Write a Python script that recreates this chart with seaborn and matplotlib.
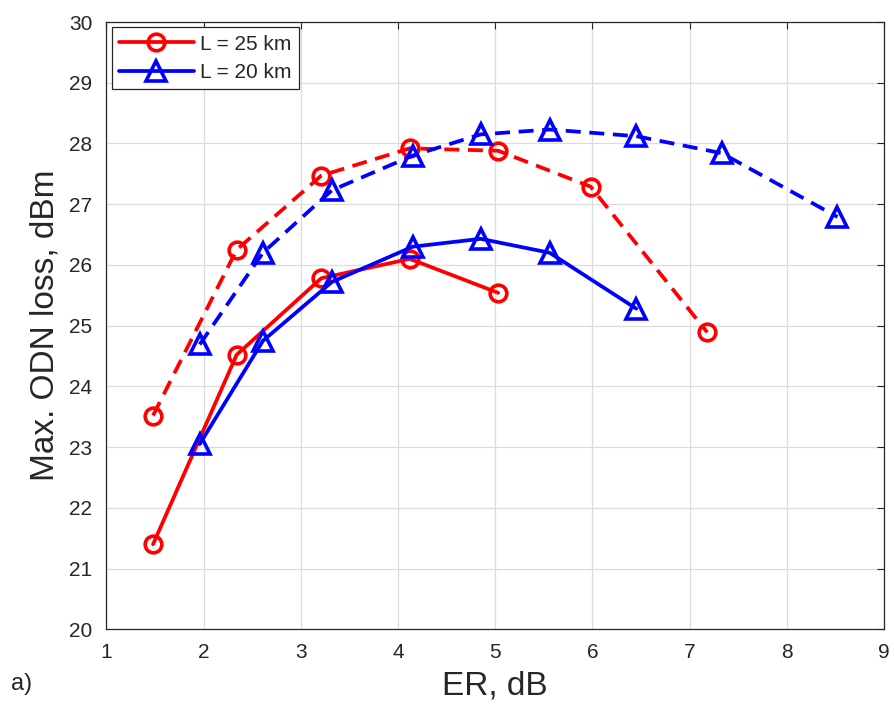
import matplotlib
matplotlib.use("Agg")
import matplotlib.pyplot as plt
import pandas as pd
import seaborn as sns

# L = 25 km
er_25 = [1.48, 2.34, 3.21, 4.12, 5.03]
loss_25_solid = [21.40, 24.52, 25.78, 26.10, 25.54]
er_25_dash = [1.48, 2.34, 3.21, 4.12, 5.03, 5.98, 7.18]
loss_25_dash = [23.52, 26.25, 27.47, 27.92, 27.88, 27.29, 24.89]

# L = 20 km
er_20 = [1.96, 2.61, 3.32, 4.15, 4.85, 5.56, 6.45]
loss_20_solid = [23.05, 24.75, 25.72, 26.30, 26.43, 26.20, 25.28]
er_20_dash = [1.96, 2.61, 3.32, 4.15, 4.85, 5.56, 6.45, 7.33, 8.52]
loss_20_dash = [24.69, 26.20, 27.23, 27.80, 28.15, 28.23, 28.12, 27.84, 26.79]

sns.set_theme(style="white")
plt.rcParams["font.family"] = ["Liberation Sans", "DejaVu Sans"]

fig = plt.figure(figsize=(8.94, 7.11), dpi=100)
ax = fig.add_axes([0.119, 0.115, 0.870, 0.854])

series = [
    (er_25_dash, loss_25_dash, "red", "o", (4, 2.3), None),
    (er_20_dash, loss_20_dash, "blue", "^", (4, 2.3), None),
    (er_25, loss_25_solid, "red", "o", "", "L = 25 km"),
    (er_20, loss_20_solid, "blue", "^", "", "L = 20 km"),
]

for x, y, color, marker, dashes, label in series:
    df = pd.DataFrame({"ER": x, "loss": y})
    ms = 12 if marker == "o" else 15
    line_kws = dict(
        color=color, marker=marker, markersize=ms, markerfacecolor="none",
        markeredgecolor=color, markeredgewidth=2.6, linewidth=2.7,
        label=label, legend=False,
    )
    if dashes:
        line_kws["dashes"] = dashes
    sns.lineplot(data=df, x="ER", y="loss", ax=ax, sort=False, **line_kws)

ax.set_xlim(1, 9)
ax.set_ylim(20, 30)
ax.set_xticks(range(1, 10))
ax.set_yticks(range(20, 31))
ax.grid(True, color="#dcdcdc", linewidth=0.9)
ax.tick_params(direction="in", length=5, width=0.8, colors="#262626",
               labelsize=15, top=True, right=True, pad=10)
for s in ax.spines.values():
    s.set_color("#262626")
    s.set_linewidth(0.9)

ax.set_xlabel("ER, dB", fontsize=24, color="#262626", labelpad=6)
ax.set_ylabel("Max. ODN loss, dBm", fontsize=24, color="#262626", labelpad=6)
fig.text(0.012, 0.03, "a)", fontsize=17, color="#262626")

handles = [ax.lines[2], ax.lines[3]]
leg = ax.legend(handles=handles, labels=["L = 25 km", "L = 20 km"], loc="upper left",
                fontsize=15, frameon=True, fancybox=False, framealpha=1,
                edgecolor="#262626", borderaxespad=0.25, handlelength=3.6,
                borderpad=0.35, labelspacing=0.45, handletextpad=0.3)
leg.get_frame().set_linewidth(0.9)

fig.savefig("out.png", dpi=100)
